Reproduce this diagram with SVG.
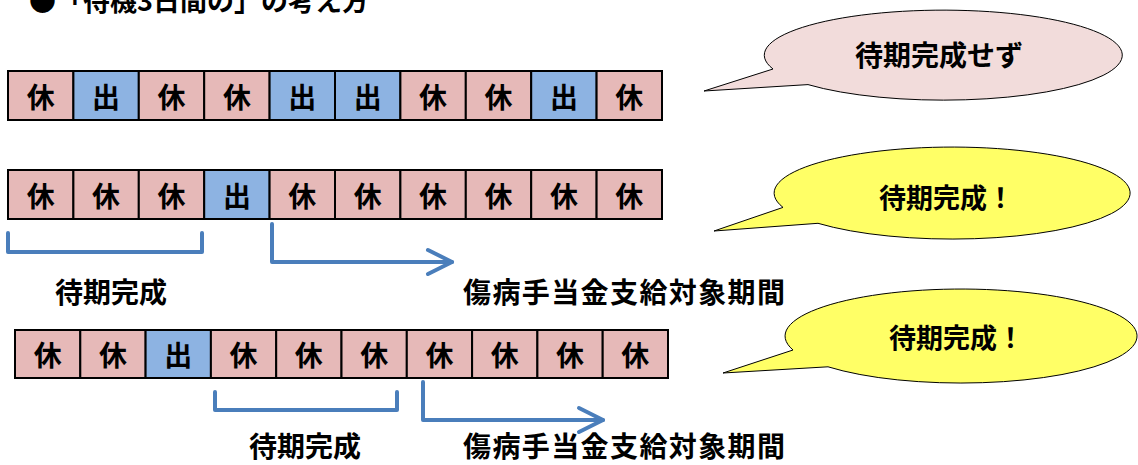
<svg xmlns="http://www.w3.org/2000/svg" width="1138" height="465" viewBox="0 0 1138 465">
<style>
text{font-family:"Noto Sans CJK JP","Noto Sans CJK SC",sans-serif;font-weight:700;fill:#000}
.cell text{font-size:28px;text-anchor:middle}
.off{fill:#e6b9b8;stroke:#000;stroke-width:2}
.on{fill:#8db3e2;stroke:#000;stroke-width:2}
.lbl{font-size:28px}
.call{stroke:#000;stroke-width:1}
.pink{fill:#f2dcdb}
.yel{fill:#ffff66}
.conn{fill:none;stroke:#4a7ebb;stroke-width:4;stroke-linejoin:round;stroke-linecap:round}
</style>
<rect width="1138" height="465" fill="#fff"/>
<g id="title"><text x="29" y="11" style="font-size:27px">●「待機3日間の」の考え方</text></g>

<g id="row1" class="cell">
<rect class="off" x="8" y="71" width="65.4" height="49"/><text x="40.7" y="107.5">休</text>
<rect class="on" x="73.4" y="71" width="65.4" height="49"/><text x="106.1" y="107.5">出</text>
<rect class="off" x="138.8" y="71" width="65.4" height="49"/><text x="171.5" y="107.5">休</text>
<rect class="off" x="204.2" y="71" width="65.4" height="49"/><text x="236.9" y="107.5">休</text>
<rect class="on" x="269.6" y="71" width="65.4" height="49"/><text x="302.3" y="107.5">出</text>
<rect class="on" x="335" y="71" width="65.4" height="49"/><text x="367.7" y="107.5">出</text>
<rect class="off" x="400.4" y="71" width="65.4" height="49"/><text x="433.1" y="107.5">休</text>
<rect class="off" x="465.8" y="71" width="65.4" height="49"/><text x="498.5" y="107.5">休</text>
<rect class="on" x="531.2" y="71" width="65.4" height="49"/><text x="563.9" y="107.5">出</text>
<rect class="off" x="596.6" y="71" width="65.4" height="49"/><text x="629.3" y="107.5">休</text>
</g>

<g id="row2" class="cell">
<rect class="off" x="8" y="170" width="65.4" height="49"/><text x="40.7" y="206.5">休</text>
<rect class="off" x="73.4" y="170" width="65.4" height="49"/><text x="106.1" y="206.5">休</text>
<rect class="off" x="138.8" y="170" width="65.4" height="49"/><text x="171.5" y="206.5">休</text>
<rect class="on" x="204.2" y="170" width="65.4" height="49"/><text x="236.9" y="206.5">出</text>
<rect class="off" x="269.6" y="170" width="65.4" height="49"/><text x="302.3" y="206.5">休</text>
<rect class="off" x="335" y="170" width="65.4" height="49"/><text x="367.7" y="206.5">休</text>
<rect class="off" x="400.4" y="170" width="65.4" height="49"/><text x="433.1" y="206.5">休</text>
<rect class="off" x="465.8" y="170" width="65.4" height="49"/><text x="498.5" y="206.5">休</text>
<rect class="off" x="531.2" y="170" width="65.4" height="49"/><text x="563.9" y="206.5">休</text>
<rect class="off" x="596.6" y="170" width="65.4" height="49"/><text x="629.3" y="206.5">休</text>
</g>

<g id="row3" class="cell">
<rect class="off" x="15" y="330" width="65.3" height="48"/><text x="47.65" y="366">休</text>
<rect class="off" x="80.3" y="330" width="65.3" height="48"/><text x="112.95" y="366">休</text>
<rect class="on" x="145.6" y="330" width="65.3" height="48"/><text x="178.25" y="366">出</text>
<rect class="off" x="210.9" y="330" width="65.3" height="48"/><text x="243.55" y="366">休</text>
<rect class="off" x="276.2" y="330" width="65.3" height="48"/><text x="308.85" y="366">休</text>
<rect class="off" x="341.5" y="330" width="65.3" height="48"/><text x="374.15" y="366">休</text>
<rect class="off" x="406.8" y="330" width="65.3" height="48"/><text x="439.45" y="366">休</text>
<rect class="off" x="472.1" y="330" width="65.3" height="48"/><text x="504.75" y="366">休</text>
<rect class="off" x="537.4" y="330" width="65.3" height="48"/><text x="570.05" y="366">休</text>
<rect class="off" x="602.7" y="330" width="65.3" height="48"/><text x="635.35" y="366">休</text>
</g>

<g id="callout1">
<path class="call pink" d="M773 69 L704 91 L808 84.6 A179 45 0 1 0 773 69 Z"/>
<text x="855" y="65.5" style="font-size:28px">待期完成せず</text>
</g>
<g id="callout2">
<path class="call yel" d="M783 207.4 L714 231 L818 223.3 A178 46 0 1 0 783 207.4 Z"/>
<text x="879" y="207.5" style="font-size:27px">待期完成！</text>
</g>
<g id="callout3">
<path class="call yel" d="M793 350 L723 373 L828 366.8 A176 47 0 1 0 793 350 Z"/>
<text x="889" y="348" style="font-size:27px">待期完成！</text>
</g>

<g id="connectors">
<path class="conn" d="M8 233 V252 H202 V233"/>
<path class="conn" d="M272 224 V262 H452"/>
<path class="conn" d="M428 250 L452 262 L428 274"/>
<path class="conn" d="M215 392 V410 H397 V392"/>
<path class="conn" d="M423 382 V420 H603"/>
<path class="conn" d="M579 408 L603 420 L579 432"/>
</g>

<g id="labels">
<text class="lbl" x="55" y="303">待期完成</text>
<text class="lbl" x="463" y="303" letter-spacing="1.4">傷病手当金支給対象期間</text>
<text class="lbl" x="249" y="457">待期完成</text>
<text class="lbl" x="463" y="457" letter-spacing="1.4">傷病手当金支給対象期間</text>
</g>
</svg>
